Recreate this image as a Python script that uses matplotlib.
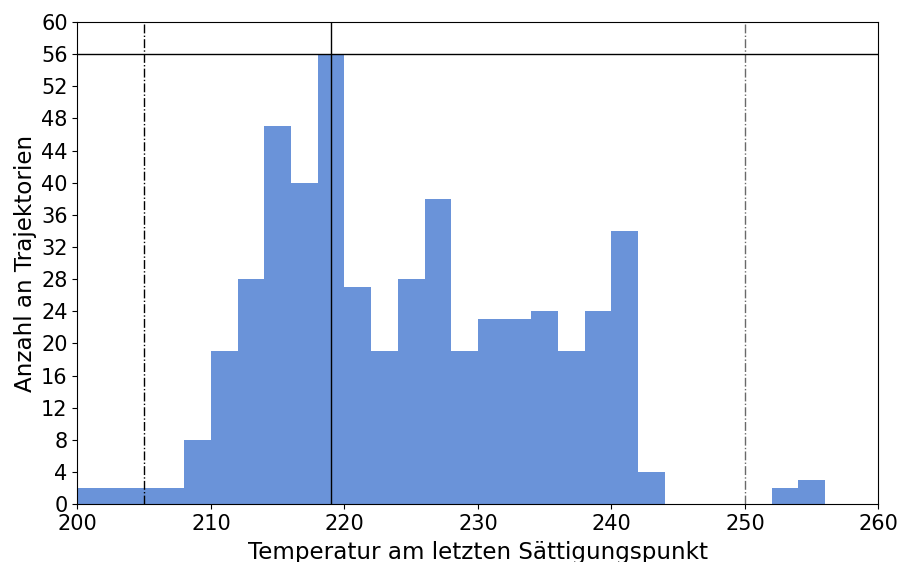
import numpy as np
import matplotlib
matplotlib.use("Agg")
import matplotlib.pyplot as plt

# bin edges (2 K wide) and counts per bin
bin_edges = np.arange(200, 258, 2)
counts = [2, 2, 2, 2, 8, 19, 28, 47, 40, 56, 27, 19, 28, 38, 19,
          23, 23, 24, 19, 24, 34, 4, 0, 0, 0, 0, 2, 3]

mean_temp = 219
lower_bound = 205
upper_bound = 250
max_count = 56

plt.rcParams["font.size"] = 15

fig = plt.figure(figsize=(9, 5.62), dpi=100)
ax = fig.add_axes([0.086, 0.103, 0.89, 0.858])

ax.axvline(mean_temp, color="black", linewidth=1)
ax.axvline(lower_bound, color="black", linestyle="-.", linewidth=1)
ax.axvline(upper_bound, color="dimgray", linestyle="-.", linewidth=1)
ax.axhline(max_count, color="black", linewidth=1)

ax.hist(bin_edges[:-1], bins=bin_edges, weights=counts,
        color="#386fcd", alpha=0.75, linewidth=0)

ax.set_xlim(200, 260)
ax.set_ylim(0, 60)
ax.set_yticks(np.arange(0, 61, 4))
ax.set_xticks(np.arange(200, 261, 10))

ax.set_xlabel("Temperatur am letzten Sättigungspunkt", fontsize=16.6, labelpad=5)
ax.set_ylabel("Anzahl an Trajektorien", fontsize=16.6, labelpad=3)

fig.savefig("out.png")
